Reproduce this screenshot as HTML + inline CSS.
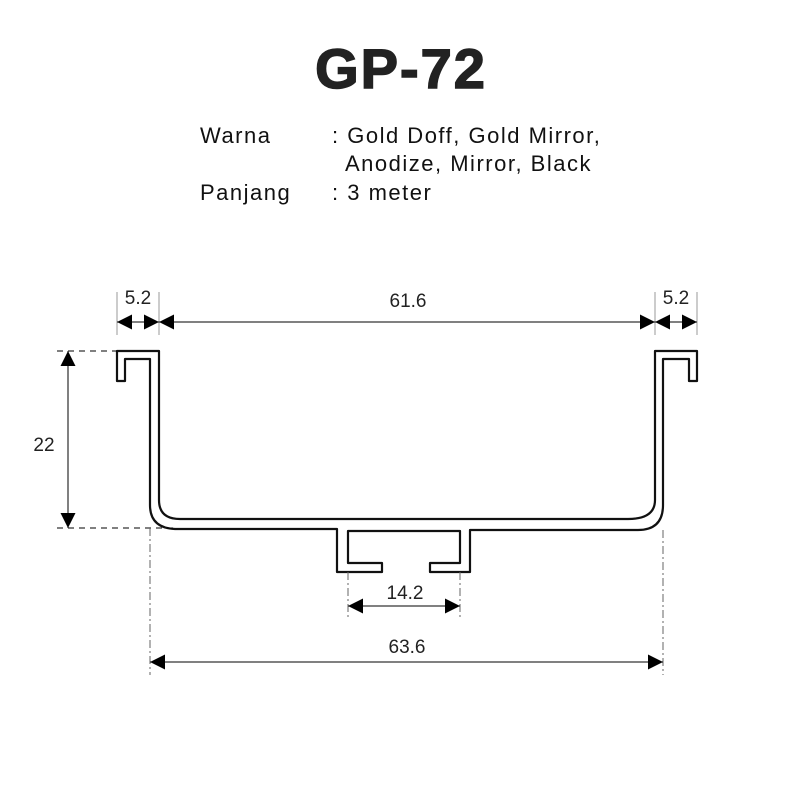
<!DOCTYPE html>
<html><head><style>
body{margin:0;background:#fff;}
svg{display:block}
</style></head><body>
<svg width="800" height="800" viewBox="0 0 800 800" xmlns="http://www.w3.org/2000/svg">
<defs>
<marker id="a" viewBox="0 0 10 10" refX="10" refY="5" markerWidth="15" markerHeight="15" markerUnits="userSpaceOnUse" orient="auto-start-reverse"><path d="M0,0 L10,5 L0,10 Z" fill="#000"/></marker>
</defs>
<text x="401" y="88" text-anchor="middle" font-family="Liberation Sans, sans-serif" font-weight="bold" font-size="56" letter-spacing="2" fill="#222" stroke="#222" stroke-width="1.5">GP-72</text>
<g font-family="Liberation Sans, sans-serif" font-size="22" letter-spacing="1.5" fill="#111">
<text x="200" y="143">Warna</text>
<text x="332" y="143">: Gold Doff, Gold Mirror,</text>
<text x="345" y="171">Anodize, Mirror, Black</text>
<text x="200" y="200">Panjang</text>
<text x="332" y="200">: 3 meter</text>
</g>
<path d="M117,351 H159 V500 Q159,519 180,519 H628 Q655,519 655,500 V351 H697 V381 H689 V359 H663 V505 Q663,530 638,530 H470 V572 H430 V563 H460 V531 H348 V563 H382 V572 H337 V529 H175 Q150,528 150,505 V359 H125 V381 H117 Z" fill="#fff" stroke="#111" stroke-width="2.2" stroke-linejoin="round"/>
<g stroke="#000" stroke-width="1" fill="none">
<line x1="117" y1="292" x2="117" y2="335" stroke="#999"/>
<line x1="159" y1="292" x2="159" y2="335" stroke="#999"/>
<line x1="655" y1="292" x2="655" y2="335" stroke="#999"/>
<line x1="697" y1="292" x2="697" y2="335" stroke="#999"/>
<line x1="117" y1="322" x2="159" y2="322" marker-start="url(#a)" marker-end="url(#a)"/>
<line x1="159" y1="322" x2="655" y2="322" marker-start="url(#a)" marker-end="url(#a)"/>
<line x1="655" y1="322" x2="697" y2="322" marker-start="url(#a)" marker-end="url(#a)"/>
<line x1="57" y1="351" x2="117" y2="351" stroke-dasharray="6,5"/>
<line x1="57" y1="528" x2="175" y2="528" stroke-dasharray="6,5"/>
<line x1="68" y1="351" x2="68" y2="528" marker-start="url(#a)" marker-end="url(#a)"/>
<line x1="150" y1="528" x2="150" y2="675" stroke-dasharray="8,3,2,3" stroke="#666"/>
<line x1="663" y1="530" x2="663" y2="675" stroke-dasharray="8,3,2,3" stroke="#666"/>
<line x1="150" y1="662" x2="663" y2="662" marker-start="url(#a)" marker-end="url(#a)"/>
<line x1="348" y1="572" x2="348" y2="617" stroke-dasharray="8,3,2,3" stroke="#666"/>
<line x1="460" y1="572" x2="460" y2="617" stroke-dasharray="8,3,2,3" stroke="#666"/>
<line x1="348" y1="606" x2="460" y2="606" marker-start="url(#a)" marker-end="url(#a)"/>
</g>
<g font-family="Liberation Sans, sans-serif" font-size="19" fill="#222" text-anchor="middle">
<text x="138" y="304">5.2</text>
<text x="408" y="307">61.6</text>
<text x="676" y="304">5.2</text>
<text x="44" y="451">22</text>
<text x="405" y="599">14.2</text>
<text x="407" y="653">63.6</text>
</g>
</svg>
</body></html>
